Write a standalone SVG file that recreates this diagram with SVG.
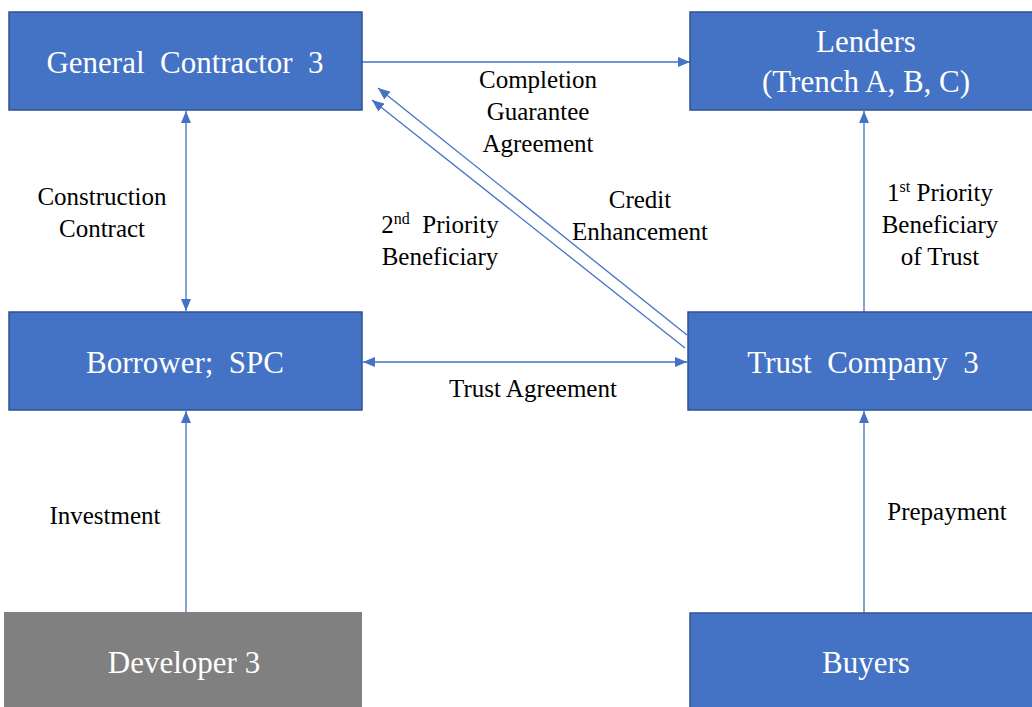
<svg xmlns="http://www.w3.org/2000/svg" width="1032" height="707" viewBox="0 0 1032 707">
<style>
.box{fill:#4472C4;stroke:#2F528F;stroke-width:1.5}
.grey{fill:#808080;stroke:none}
text{font-family:'Liberation Serif','Times New Roman',serif}
.bt{font-size:31px;fill:#FFFFFF;text-anchor:middle}
.lb{font-size:25px;fill:#000000;text-anchor:middle}
.ln{stroke:#4472C4;stroke-width:1.3;fill:none}
</style>
<defs>
<marker id="ah" viewBox="0 0 12 10" refX="12" refY="5" markerWidth="12" markerHeight="10" markerUnits="userSpaceOnUse" orient="auto-start-reverse">
<path d="M0,0 L12,5 L0,10 Z" fill="#4472C4"/>
</marker>
</defs>
<rect width="1032" height="707" fill="#FFFFFF"/>
<g id="connectors">
<line class="ln" x1="362" y1="62" x2="690" y2="62" marker-end="url(#ah)"/>
<line class="ln" x1="186" y1="111" x2="186" y2="311" marker-start="url(#ah)" marker-end="url(#ah)"/>
<line class="ln" x1="363" y1="362" x2="687" y2="362" marker-start="url(#ah)" marker-end="url(#ah)"/>
<line class="ln" x1="687" y1="335" x2="378" y2="88" marker-end="url(#ah)"/>
<line class="ln" x1="685" y1="348" x2="372" y2="100" marker-end="url(#ah)"/>
<line class="ln" x1="864" y1="312" x2="864" y2="111" marker-end="url(#ah)"/>
<line class="ln" x1="186" y1="612" x2="186" y2="411" marker-end="url(#ah)"/>
<line class="ln" x1="864" y1="613" x2="864" y2="411" marker-end="url(#ah)"/>
</g>
<g id="general-contractor">
<rect class="box" x="9" y="12" width="353" height="98"/>
<text class="bt" x="185" y="73" xml:space="preserve">General  Contractor  3</text>
</g>
<g id="lenders">
<rect class="box" x="690" y="12" width="345" height="98"/>
<text class="bt" x="866" y="52">Lenders</text>
<text class="bt" x="866" y="92">(Trench A, B, C)</text>
</g>
<g id="borrower">
<rect class="box" x="9" y="312" width="353" height="98"/>
<text class="bt" x="185" y="373" xml:space="preserve">Borrower;  SPC</text>
</g>
<g id="trust-company">
<rect class="box" x="688" y="312" width="347" height="98"/>
<text class="bt" x="863" y="373" xml:space="preserve">Trust  Company  3</text>
</g>
<g id="developer">
<rect class="grey" x="4" y="612" width="358" height="100"/>
<text class="bt" x="184" y="673">Developer 3</text>
</g>
<g id="buyers">
<rect class="box" x="690" y="613" width="345" height="100"/>
<text class="bt" x="866" y="673">Buyers</text>
</g>
<g id="labels">
<text class="lb" x="538" y="88">Completion</text>
<text class="lb" x="538" y="120">Guarantee</text>
<text class="lb" x="538" y="152">Agreement</text>
<text class="lb" x="102" y="205">Construction</text>
<text class="lb" x="102" y="237">Contract</text>
<text class="lb" x="440" y="233" xml:space="preserve">2<tspan font-size="16" dy="-9">nd</tspan><tspan dy="9">  Priority</tspan></text>
<text class="lb" x="440" y="265">Beneficiary</text>
<text class="lb" x="640" y="208">Credit</text>
<text class="lb" x="640" y="240">Enhancement</text>
<text class="lb" x="940" y="201">1<tspan font-size="16" dy="-9">st</tspan><tspan dy="9"> Priority</tspan></text>
<text class="lb" x="940" y="233">Beneficiary</text>
<text class="lb" x="940" y="265">of Trust</text>
<text class="lb" x="533" y="397">Trust Agreement</text>
<text class="lb" x="105" y="524">Investment</text>
<text class="lb" x="947" y="520">Prepayment</text>
</g>
</svg>
